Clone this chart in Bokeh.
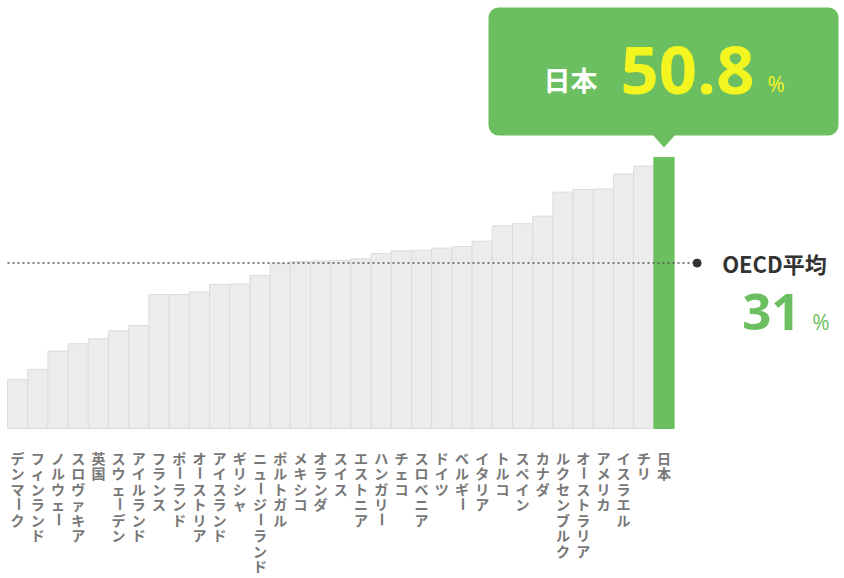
import math
from bokeh.plotting import figure
from bokeh.models import Range1d, ColumnDataSource
from bokeh.embed import file_html
from bokeh.resources import INLINE
from bokeh.core.properties import value

# ---- data ----
countries = ["デンマーク", "フィンランド", "ノルウェー", "スロヴァキア", "英国", "スウェーデン",
             "アイルランド", "フランス", "ポーランド", "オーストリア", "アイスランド", "ギリシャ",
             "ニュージーランド", "ポルトガル", "メキシコ", "オランダ", "スイス", "エストニア",
             "ハンガリー", "チェコ", "スロベニア", "ドイツ", "ベルギー", "イタリア", "トルコ",
             "スペイン", "カナダ", "ルクセンブルク", "オーストラリア", "アメリカ", "イスラエル",
             "チリ", "日本"]
rates = [9.2, 11.1, 14.5, 15.9, 16.8, 18.3, 19.3, 25.1, 25.1, 25.6, 27.0, 27.1,
         28.7, 30.9, 31.3, 31.4, 31.5, 31.8, 32.8, 33.3, 33.4, 33.8, 34.1, 35.1, 38.0,
         38.4, 39.8, 44.3, 44.8, 44.9, 47.7, 49.2, 50.8]
oecd_avg = 31
oecd_label = "OECD平均"
highlight = "日本"
unit = "%"

# ---- layout ----
W, H = 844, 578
PITCH = 20.2            # px per bar
YS = 5.335              # px per percentage point
X0 = -0.5 - 7 / PITCH
X1 = X0 + W / PITCH
Y1 = 428 / YS
Y0 = Y1 - H / YS
PX = 1 / YS             # data units per pixel (vertical)
PXX = 1 / PITCH         # data units per pixel (horizontal)

GREEN = "#6cbf60"
YELLOW = "#f2f51f"

p = figure(width=W, height=H, x_range=Range1d(X0, X1), y_range=Range1d(Y0, Y1),
           output_backend="svg", toolbar_location=None, min_border=0,
           x_axis_type=None, y_axis_type=None)
p.grid.visible = False
p.outline_line_color = None
p.background_fill_color = "white"
p.border_fill_color = "white"

n = len(countries)
idx = list(range(n))
fill = [GREEN if c == highlight else "#ececec" for c in countries]
edge = [GREEN if c == highlight else "#dcdcdc" for c in countries]
src = ColumnDataSource(dict(x=idx, top=rates, fill=fill, edge=edge))
p.vbar(x="x", top="top", bottom=0, width=1, fill_color="fill", line_color="edge",
       line_width=1, source=src)

# vertical (tategaki) category labels: one character per row
cx, cy, ct, ca = [], [], [], []
for i, name in enumerate(countries):
    for k, ch in enumerate(name):
        cx.append(i)
        cy.append(-(29 + 15.5 * k) * PX)
        ct.append(ch)
        ca.append(math.pi / 2 if ch == "ー" else 0.0)
lab = ColumnDataSource(dict(x=cx, y=cy, t=ct, a=ca))
p.text(x="x", y="y", text="t", angle="a", source=lab, text_align="center",
       text_baseline="middle", text_font=value("Noto Sans CJK JP"), text_font_size="14px",
       text_font_style="bold", text_color="#777777")

# OECD average line
line_end = n + 0.64
p.line(x=[X0 + 7 * PXX, line_end], y=[oecd_avg, oecd_avg], line_color="#555555",
       line_width=1.5, line_dash="2 3")
p.scatter(x=[line_end], y=[oecd_avg], size=8, color="#333333")
p.text(x=[line_end + 25 * PXX], y=[oecd_avg], text=[oecd_label], text_baseline="middle",
       text_align="left", text_font=value("Noto Sans CJK JP"), text_font_size="22px",
       text_font_style="bold", text_color="#333333")
p.text(x=[line_end + 45 * PXX], y=[oecd_avg - 49 * PX], text=[str(oecd_avg)],
       text_baseline="middle", text_align="left", text_font=value("Open Sans"),
       text_font_size="51px", text_font_style="bold", text_color=GREEN)
p.text(x=[line_end + 115 * PXX], y=[oecd_avg - 59 * PX], text=[unit],
       text_baseline="middle", text_align="left", text_font=value("Open Sans"),
       text_font_size="21px", text_color=GREEN)

# callout for highlighted country
jx = countries.index(highlight)
jv = rates[jx]
box_b = jv + 22 * PX
box_t = jv + 150 * PX
p.quad(left=[jx - 175.5 * PXX], right=[jx + 174.5 * PXX], bottom=[box_b], top=[box_t],
       fill_color=GREEN, line_color=None, border_radius=10)
p.patch(x=[jx - 12 * PXX, jx + 12 * PXX, jx], y=[box_b + 0.3, box_b + 0.3, jv + 10 * PX],
        fill_color=GREEN, line_color=None)
p.text(x=[jx - 120.5 * PXX], y=[jv + 78 * PX], text=[highlight], text_baseline="middle",
       text_align="left", text_font=value("Noto Sans CJK JP"), text_font_size="27px",
       text_font_style="bold", text_color="white")
p.text(x=[jx - 43.5 * PXX], y=[jv + 87 * PX], text=[f"{jv}"], text_baseline="middle",
       text_align="left", text_font=value("Open Sans"), text_font_size="67px",
       text_font_style="bold", text_color=YELLOW)
p.text(x=[jx + 103.5 * PXX], y=[jv + 73 * PX], text=[unit], text_baseline="middle",
       text_align="left", text_font=value("Open Sans"), text_font_size="21px",
       text_color=YELLOW)

open("out.html", "w").write(file_html(p, INLINE))
